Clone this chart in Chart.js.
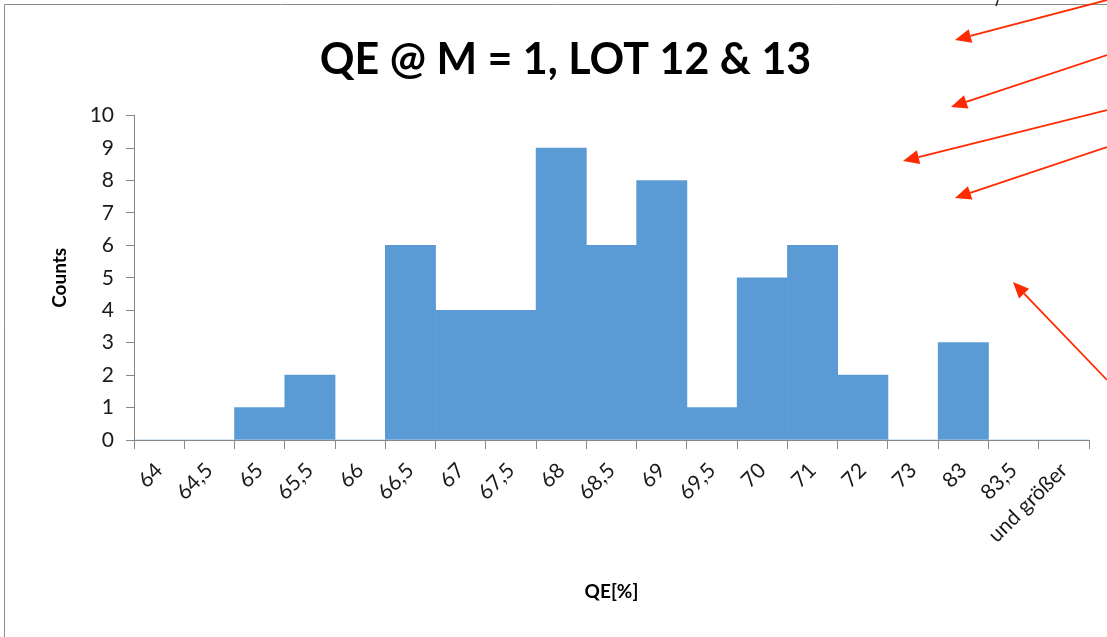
<!DOCTYPE html>
<html>
<head>
<meta charset="utf-8">
<title>QE @ M = 1, LOT 12 & 13</title>
<script src="https://cdn.jsdelivr.net/npm/chart.js@4/dist/chart.umd.min.js"></script>
<style>
  html, body { margin: 0; padding: 0; background: #fff; overflow: hidden; }
  canvas { display: block; }
</style>
</head>
<body>
<canvas id="chart" width="1107" height="637"></canvas>
<script>
// Histogramm-Daten
const binLabels = ["64", "64,5", "65", "65,5", "66", "66,5", "67", "67,5", "68", "68,5",
                   "69", "69,5", "70", "71", "72", "73", "83", "83,5", "und größer"];
const counts = [0, 0, 1, 2, 0, 6, 4, 4, 9, 6, 8, 1, 5, 6, 2, 0, 3, 0, 0];
const yTicks = [0, 1, 2, 3, 4, 5, 6, 7, 8, 9, 10];

const FONT = "Lato, 'Open Sans', sans-serif";
const AXIS_GREY = "#878787";

// Rahmen + rote Pfeile (Anmerkungen ausserhalb des Diagramms)
const annotations = {
    id: "annotations",
    beforeDraw(chart) {
        const ctx = chart.ctx;
        ctx.save();
        ctx.strokeStyle = "#8c8c8c";
        ctx.lineWidth = 1;
        ctx.beginPath();
        ctx.moveTo(4.5, 640);
        ctx.lineTo(4.5, 4.5);
        ctx.lineTo(1110, 4.5);
        ctx.stroke();
        ctx.restore();
    },
    afterDraw(chart) {
        const ctx = chart.ctx;
        const arrows = [
            [1107, 0, 955, 40],
            [1107, 55, 951, 107],
            [1107, 110, 903, 161],
            [1107, 147, 955, 198],
            [1107, 380, 1013, 282]
        ];
        ctx.save();
        ctx.strokeStyle = "#ff2a00";
        ctx.fillStyle = "#ff2a00";
        ctx.lineWidth = 1.8;
        arrows.forEach(([x1, y1, x2, y2]) => {
            const a = Math.atan2(y2 - y1, x2 - x1);
            const len = 16, w = 7;
            const bx = x2 - Math.cos(a) * len, by = y2 - Math.sin(a) * len;
            ctx.beginPath();
            ctx.moveTo(x1, y1);
            ctx.lineTo(bx, by);
            ctx.stroke();
            ctx.beginPath();
            ctx.moveTo(x2, y2);
            ctx.lineTo(bx + Math.sin(a) * w, by - Math.cos(a) * w);
            ctx.lineTo(bx - Math.sin(a) * w, by + Math.cos(a) * w);
            ctx.closePath();
            ctx.fill();
        });
        // kleiner Rest eines Zeichens am oberen Rand
        ctx.strokeStyle = "#222";
        ctx.lineWidth = 1.5;
        ctx.beginPath();
        ctx.moveTo(998, 0);
        ctx.lineTo(996, 6);
        ctx.stroke();
        ctx.restore();
    }
};

new Chart(document.getElementById("chart"), {
    type: "bar",
    data: {
        labels: binLabels,
        datasets: [{
            label: "Counts",
            data: counts,
            backgroundColor: "#5b9bd5",
            borderWidth: 0,
            barPercentage: 1.0,
            categoryPercentage: 1.0
        }]
    },
    options: {
        responsive: false,
        animation: false,
        layout: { padding: { left: 42, right: 18, top: 0, bottom: 0 } },
        plugins: {
            legend: { display: false },
            tooltip: { enabled: false },
            title: {
                display: true,
                text: "QE @ M = 1, LOT 12 & 13",
                color: "#000",
                font: { family: FONT, size: 43, weight: "bold", lineHeight: 1.2 },
                padding: { top: 34, bottom: 30 }
            }
        },
        scales: {
            x: {
                grid: {
                    display: true,
                    drawOnChartArea: false,
                    drawTicks: true,
                    tickLength: 9,
                    color: AXIS_GREY,
                    offset: true
                },
                border: { display: true, color: AXIS_GREY, width: 1 },
                ticks: {
                    color: "#1a1a1a",
                    font: { family: FONT, size: 21 },
                    minRotation: 45,
                    maxRotation: 45,
                    autoSkip: false,
                    padding: 9
                },
                title: {
                    display: true,
                    text: "QE[%]",
                    color: "#000",
                    font: { family: FONT, size: 19, weight: "bold", lineHeight: 1.2 },
                    padding: { top: 0, bottom: 34 }
                },
                afterFit(scale) { scale.height = 197; }
            },
            y: {
                min: 0,
                max: 10,
                afterBuildTicks(scale) { scale.ticks = yTicks.map(v => ({ value: v })); },
                grid: {
                    display: true,
                    drawOnChartArea: false,
                    drawTicks: true,
                    tickLength: 8,
                    color: AXIS_GREY
                },
                border: { display: true, color: AXIS_GREY, width: 1 },
                ticks: {
                    color: "#1a1a1a",
                    font: { family: FONT, size: 21 },
                    padding: 12
                },
                title: {
                    display: true,
                    text: "Counts",
                    color: "#000",
                    font: { family: FONT, size: 19, weight: "bold", lineHeight: 1.2 },
                    padding: { top: 6, bottom: 0 }
                },
                afterFit(scale) { scale.width = 92; }
            }
        }
    },
    plugins: [annotations]
});
</script>
</body>
</html>
